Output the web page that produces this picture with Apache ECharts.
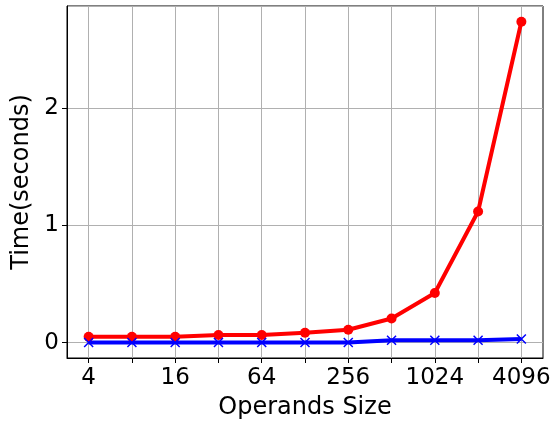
<!DOCTYPE html>
<html>
<head>
<meta charset="utf-8">
<script src="https://cdn.jsdelivr.net/npm/echarts@6/dist/echarts.min.js"></script>
<style>
  html, body { margin: 0; padding: 0; background: #fff; }
  #chart { width: 555px; height: 425px; }
</style>
</head>
<body>
<div id="chart"></div>
<script>
// operand sizes (powers of two, drawn on an evenly spaced log2 axis)
const sizes = ['4', '8', '16', '32', '64', '128', '256', '512', '1024', '2048', '4096']
// seconds
const redTimes = [0.05, 0.05, 0.05, 0.064, 0.064, 0.083, 0.109, 0.205, 0.423, 1.119, 2.738]
const blueTimes = [0.001, 0.001, 0.001, 0.001, 0.001, 0.001, 0.001, 0.019, 0.019, 0.019, 0.03]

const font = 'DejaVu Sans'
const gridColor = '#b0b0b0'

const myChart = echarts.init(document.getElementById('chart'))
const option = {
  animation: false,
  grid: {
    left: 67, right: 12, top: 6, bottom: 65,
    show: true, borderColor: '#000', borderWidth: 1
  },
  xAxis: {
    type: 'category',
    data: sizes,
    boundaryGap: true,
    name: 'Operands Size',
    nameLocation: 'middle',
    nameGap: 38,
    nameTextStyle: { fontFamily: font, fontSize: 24, color: '#000', verticalAlign: 'top' },
    axisLine: { show: true, onZero: false, lineStyle: { color: '#000', width: 1 } },
    axisTick: { show: true, alignWithLabel: true, interval: 0, length: 5, lineStyle: { color: '#000' } },
    axisLabel: { interval: 1, fontFamily: font, fontSize: 23, color: '#000', margin: 9 },
    splitLine: { show: true, interval: 0, alignWithLabel: true, lineStyle: { color: gridColor, width: 1 } }
  },
  yAxis: {
    type: 'value',
    min: -0.132,
    max: 2.873,
    splitNumber: 3,
    name: 'Time(seconds)',
    nameLocation: 'middle',
    nameGap: 29,
    nameTextStyle: { fontFamily: font, fontSize: 24, color: '#000' },
    axisLine: { show: true, lineStyle: { color: '#000', width: 1 } },
    axisTick: { show: true, length: 5, lineStyle: { color: '#000' } },
    axisLabel: {
      fontFamily: font, fontSize: 23, color: '#000', margin: 8,
      showMinLabel: false, showMaxLabel: false,
      formatter: v => (Number.isInteger(v) ? String(v) : '')
    },
    splitLine: { show: true, lineStyle: { color: gridColor, width: 1 } }
  },
  series: [
    {
      type: 'line',
      data: redTimes,
      color: '#ff0000',
      symbol: 'circle',
      symbolSize: 10,
      lineStyle: { width: 4, color: '#ff0000' },
      itemStyle: { color: '#ff0000' }
    },
    {
      type: 'line',
      data: blueTimes,
      color: '#0000ff',
      symbol: 'path://M0,0L10,10M10,0L0,10',
      symbolSize: 9,
      lineStyle: { width: 4, color: '#0000ff' },
      itemStyle: { color: '#0000ff', borderColor: '#0000ff', borderWidth: 1.5 }
    }
  ]
}
// draw
myChart.setOption(option)
</script>
</body>
</html>
